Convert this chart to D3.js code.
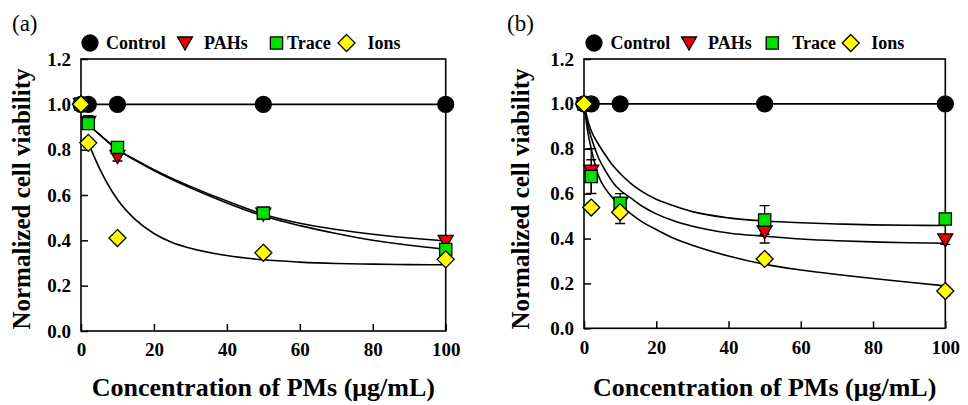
<!DOCTYPE html>
<html>
<head>
<meta charset="utf-8">
<script src="https://cdn.jsdelivr.net/npm/d3@7.9.0/dist/d3.min.js"></script>
<style>
  body { margin: 0; background: #fff; }
  text { font-family: 'Liberation Serif', 'Times New Roman', Tinos, 'DejaVu Serif', serif; }
</style>
</head>
<body>
<svg id="chart" width="968" height="405"></svg>
<script>
const FONT = "'Liberation Serif', 'Times New Roman', Tinos, 'DejaVu Serif', serif";

// concentrations (ug/mL)
const conc = [0, 2, 10, 50, 100];
const xTicks = [0, 20, 40, 60, 80, 100];
const yTicks = [0, 0.2, 0.4, 0.6, 0.8, 1.0, 1.2];
const legendNames = ['Control', 'PAHs', 'Trace', 'Ions'];

// panel (a) measured points
const aControl = [1.0, 1.0, 1.0, 1.0, 1.0];
const aPAHs = [1.0, 0.92, 0.77, 0.515, 0.395];
const aTrace = [1.0, 0.915, 0.81, 0.52, 0.36];
const aIons = [1.0, 0.83, 0.41, 0.345, 0.316];
const aPAHsErr = [0.01, 0.03, 0.02, 0.01, 0.01];
const aTraceErr = [0.01, 0.02, 0.02, 0.01, 0.01];
const aIonsErr = [0.01, 0.02, 0.01, 0.01, 0.01];

// panel (a) fitted curves
const aFitX = [2, 5, 10, 15, 20, 25, 30, 40, 50, 60, 70, 80, 90, 100];
const aFitPAHs = [0.91, 0.868, 0.80, 0.755, 0.712, 0.673, 0.638, 0.573, 0.515, 0.475, 0.448, 0.427, 0.41, 0.397];
const aFitTrace = [0.91, 0.868, 0.80, 0.752, 0.708, 0.668, 0.632, 0.565, 0.507, 0.465, 0.43, 0.40, 0.378, 0.36];
const aFitIons = [0.83, 0.72, 0.58, 0.49, 0.43, 0.39, 0.365, 0.333, 0.314, 0.304, 0.298, 0.295, 0.293, 0.292];

// panel (b) measured points
const bControl = [1.0, 1.0, 1.0, 1.0, 1.0];
const bPAHs = [1.0, 0.70, 0.555, 0.43, 0.394];
const bTrace = [1.0, 0.676, 0.557, 0.483, 0.487];
const bIons = [1.0, 0.538, 0.517, 0.309, 0.166];
const bPAHsErr = [0, 0.10, 0.045, 0.05, 0.02];
const bTraceErr = [0, 0.075, 0.02, 0.064, 0.02];
const bIonsErr = [0, 0.02, 0.05, 0.02, 0.02];

// panel (b) fitted curves
const bFitX = [0, 1, 2, 4, 6, 8, 10, 13, 16, 20, 25, 30, 40, 50, 60, 70, 80, 90, 100];
const bFitTrace = [1.0, 0.93, 0.88, 0.82, 0.77, 0.725, 0.69, 0.645, 0.61, 0.575, 0.545, 0.52, 0.492, 0.478, 0.47, 0.465, 0.461, 0.459, 0.458];
const bFitPAHs = [1.0, 0.91, 0.85, 0.76, 0.70, 0.65, 0.615, 0.58, 0.545, 0.51, 0.478, 0.455, 0.425, 0.41, 0.398, 0.39, 0.385, 0.381, 0.379];
const bFitIons = [1.0, 0.88, 0.80, 0.68, 0.62, 0.58, 0.55, 0.51, 0.475, 0.44, 0.40, 0.37, 0.322, 0.285, 0.26, 0.24, 0.222, 0.205, 0.189];

const styles = {
  Control: { shape: d3.symbolCircle, size: 200, fill: '#000000' },
  PAHs: { shape: 'tri', size: 0, fill: '#e60000' },
  Trace: { shape: d3.symbolSquare, size: 150, fill: '#00e000' },
  Ions: { shape: 'dia', size: 0, fill: '#ffff00' },
};

const svg = d3.select('#chart');

function markerPath(name) {
  let s = styles[name];
  if (s.shape === 'tri') return 'M-7.5,-6 L7.5,-6 L0,7 Z';
  if (s.shape === 'dia') return 'M0,-8.5 L8.5,0 L0,8.5 L-8.5,0 Z';
  return d3.symbol().type(s.shape).size(s.size)();
}

function drawPanel(cfg) {
  let x = d3.scaleLinear().domain([0, 100]).range([cfg.left, cfg.right]);
  let y = d3.scaleLinear().domain([0, 1.2]).range([cfg.bottom, cfg.top]);
  let g = svg.append('g').attr('font-family', FONT);

  // axes with inward ticks
  g.append('g')
    .attr('transform', `translate(${cfg.left},0)`)
    .call(d3.axisLeft(y).tickValues(yTicks).tickFormat(d3.format('.1f')).tickSizeInner(-7).tickSizeOuter(0).tickPadding(10))
    .call((a) => a.select('.domain').remove());
  g.append('g')
    .attr('transform', `translate(0,${cfg.bottom})`)
    .call(d3.axisBottom(x).tickValues(xTicks).tickFormat(d3.format('d')).tickSizeInner(-7).tickSizeOuter(0).tickPadding(12))
    .call((a) => a.select('.domain').remove());
  g.selectAll('g').attr('font-family', FONT);
  g.selectAll('.tick line').attr('stroke', '#000').attr('stroke-width', 1.5);
  g.selectAll('.tick text')
    .attr('fill', '#000')
    .attr('font-size', 19)
    .attr('font-weight', 'bold');

  g.append('rect')
    .attr('x', cfg.left).attr('y', cfg.top)
    .attr('width', cfg.right - cfg.left).attr('height', cfg.bottom - cfg.top)
    .attr('fill', 'none').attr('stroke', '#000').attr('stroke-width', 1.6);

  // fit lines
  let line = d3.line().x((d) => x(d[0])).y((d) => y(d[1])).curve(d3.curveMonotoneX);
  cfg.fits.forEach((f) => {
    g.append('path')
      .attr('d', line(d3.zip(f.x, f.y)))
      .attr('fill', 'none').attr('stroke', '#000').attr('stroke-width', 1.6);
  });

  // error bars
  cfg.series.forEach((s) => {
    if (!s.err) return;
    conc.forEach((c, i) => {
      let e = s.err[i];
      if (!e) return;
      let cx = x(c);
      let y1 = y(s.values[i] + e), y2 = y(s.values[i] - e);
      g.append('path')
        .attr('d', `M${cx},${y1}V${y2}M${cx - 5},${y1}H${cx + 5}M${cx - 5},${y2}H${cx + 5}`)
        .attr('stroke', '#000').attr('stroke-width', 1.3).attr('fill', 'none');
    });
  });

  // markers
  cfg.series.forEach((s) => {
    g.selectAll(null)
      .data(d3.zip(conc, s.values))
      .join('path')
      .attr('transform', (d) => `translate(${x(d[0])},${y(d[1])})`)
      .attr('d', markerPath(s.name))
      .attr('fill', styles[s.name].fill)
      .attr('stroke', '#000')
      .attr('stroke-width', 1.3);
  });

  // legend
  cfg.legend.forEach((l, i) => {
    let name = legendNames[i];
    g.append('path')
      .attr('transform', `translate(${l[0]},${cfg.legendY})`)
      .attr('d', markerPath(name))
      .attr('fill', styles[name].fill)
      .attr('stroke', '#000').attr('stroke-width', 1.3);
    g.append('text')
      .attr('x', l[1]).attr('y', cfg.legendY + 6)
      .attr('font-family', FONT)
      .attr('font-size', 18).attr('font-weight', 'bold')
      .text(name);
  });

  // axis titles
  g.append('text')
    .attr('x', (cfg.left + cfg.right) / 2).attr('y', 396)
    .attr('text-anchor', 'middle')
    .attr('font-family', FONT)
    .attr('font-size', 26).attr('font-weight', 'bold')
    .text('Concentration of PMs (\u03bcg/mL)');
  g.append('text')
    .attr('transform', `translate(${cfg.yTitleX},199) rotate(-90)`)
    .attr('text-anchor', 'middle')
    .attr('font-family', FONT)
    .attr('font-size', 25).attr('font-weight', 'bold')
    .text('Normalized cell viability');

  g.append('text')
    .attr('x', cfg.labelX).attr('y', 31)
    .attr('font-family', FONT)
    .attr('font-size', 23)
    .text(cfg.label);
}

drawPanel({
  left: 81, right: 445.7, top: 59, bottom: 331,
  label: '(a)', labelX: 12, yTitleX: 30, legendY: 43,
  legend: [[90, 106], [185, 204], [276.5, 287], [346.5, 367.5]],
  series: [
    { name: 'Control', values: aControl },
    { name: 'PAHs', values: aPAHs, err: aPAHsErr },
    { name: 'Trace', values: aTrace, err: aTraceErr },
    { name: 'Ions', values: aIons, err: aIonsErr },
  ],
  fits: [
    { x: [0, 100], y: [1.0, 1.0] },
    { x: aFitX, y: aFitPAHs },
    { x: aFitX, y: aFitTrace },
    { x: aFitX, y: aFitIons },
  ],
});

drawPanel({
  left: 584, right: 945.3, top: 59, bottom: 328.3,
  label: '(b)', labelX: 507, yTitleX: 529, legendY: 43,
  legend: [[594, 610.5], [689, 708], [772.3, 792.3], [850.7, 871.3]],
  series: [
    { name: 'Control', values: bControl },
    { name: 'PAHs', values: bPAHs, err: bPAHsErr },
    { name: 'Trace', values: bTrace, err: bTraceErr },
    { name: 'Ions', values: bIons, err: bIonsErr },
  ],
  fits: [
    { x: [0, 100], y: [1.0, 1.0] },
    { x: bFitX, y: bFitTrace },
    { x: bFitX, y: bFitPAHs },
    { x: bFitX, y: bFitIons },
  ],
});
</script>
</body>
</html>
